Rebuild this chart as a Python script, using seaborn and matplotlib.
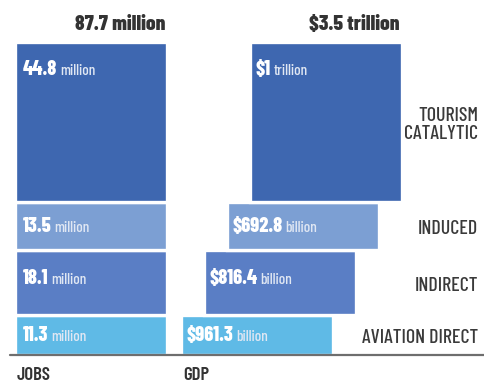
import matplotlib
matplotlib.use("Agg")
import matplotlib.pyplot as plt
from matplotlib import font_manager as fm
import numpy as np
import seaborn as sns

# ---- data (bottom-up stacking order) ----
categories = ["AVIATION DIRECT", "INDIRECT", "INDUCED", "TOURISM\nCATALYTIC"]
jobs_values = [11.3, 18.1, 13.5, 44.8]            # millions
jobs_labels = ["11.3", "18.1", "13.5", "44.8"]
jobs_unit = "million"
gdp_labels = ["$961.3", "$816.4", "$692.8", "$1"]
gdp_units = ["billion", "billion", "billion", "trillion"]
jobs_total = "87.7 million"
gdp_total = "$3.5 trillion"
axis_labels = ["JOBS", "GDP"]
colors = ["#5FBAE6", "#5A7EC5", "#7C9FD3", "#3E67B0"]

sns.set_theme(style="white")
names = {f.name for f in fm.fontManager.ttflist}
prefs = ["Barlow Condensed", "Barlow Semi Condensed", "Roboto Condensed",
         "Asap Condensed", "Archivo Narrow"]
FAM = [n for n in prefs if n in names][:1] + ["DejaVu Sans"]
plt.rcParams["font.family"] = FAM

W, H, DPI = 484, 385, 100
fig = plt.figure(figsize=(W / DPI, H / DPI), dpi=DPI)
ax = fig.add_axes([0, 0, 1, 1])
ax.set_xlim(0, W)
PX = 3.572  # pixels per million jobs
ax.set_ylim(-(H - 355) / PX, 355 / PX)
ax.axis("off")

bar_w = 152
jobs_x = 91
gdp_x0 = 256.5
gdp_step = 23
edge_lw = 2.4

bottoms = np.concatenate([[0], np.cumsum(jobs_values)[:-1]])
tops = bottoms + np.array(jobs_values)

for i, (v, b) in enumerate(zip(jobs_values, bottoms)):
    ax.bar(jobs_x, v, bottom=b, width=bar_w, color=colors[i],
           edgecolor="white", linewidth=edge_lw, zorder=2)
    gx = gdp_x0 + i * gdp_step
    ax.bar(gx, v, bottom=b, width=bar_w, color=colors[i],
           edgecolor="white", linewidth=edge_lw, zorder=2)

ax.axhline(0, xmin=10 / W, xmax=1, color="#6e6e6e", lw=1.6, zorder=3)

fig.canvas.draw()
renderer = fig.canvas.get_renderer()


def label_pair(x, y, num, unit):
    t = ax.text(x, y, num, color="white", fontsize=14.5, fontweight=800,
                va="baseline", ha="left", zorder=4)
    bb = t.get_window_extent(renderer)
    x_end = ax.transData.inverted().transform((bb.x1, bb.y0))[0]
    ax.text(x_end + 3, y, unit, color="#e0e7f3", fontsize=11,
            fontweight="medium", va="baseline", ha="left", zorder=4)


for i in range(len(jobs_values)):
    h = jobs_values[i]
    yc = tops[i] - min(h / 2, 7.6)
    yb = yc - 6.5 / PX
    jl = jobs_x - bar_w / 2 + 1.6 + 6.0
    label_pair(jl, yb, jobs_labels[i], jobs_unit)
    gx = gdp_x0 + i * gdp_step
    gl = gx - bar_w / 2 + 1.6 + 4.0
    label_pair(gl, yb, gdp_labels[i], gdp_units[i])
    ax.text(478, (bottoms[i] + tops[i]) / 2 - 0.9, categories[i], ha="right",
            va="center", fontsize=14.3, color="#3a3a3a", fontweight="medium",
            linespacing=1.05, zorder=4)

top_y = (355 - 25) / PX
ax.text(jobs_x + bar_w / 2 - 1.6, top_y, jobs_total, ha="right", va="center",
        fontsize=15.5, fontweight=800, color="#333333")
ax.text(gdp_x0 + 3 * gdp_step + bar_w / 2 - 1.6, top_y, gdp_total, ha="right",
        va="center", fontsize=15.5, fontweight=800, color="#333333")

bot_y = -(375 - 355) / PX
ax.text(17, bot_y, axis_labels[0], ha="left", va="center", fontsize=13.5,
        color="#333333", fontweight="semibold")
ax.text(183, bot_y, axis_labels[1], ha="left", va="center", fontsize=13.5,
        color="#333333", fontweight="semibold")

fig.savefig("out.png", dpi=DPI)
